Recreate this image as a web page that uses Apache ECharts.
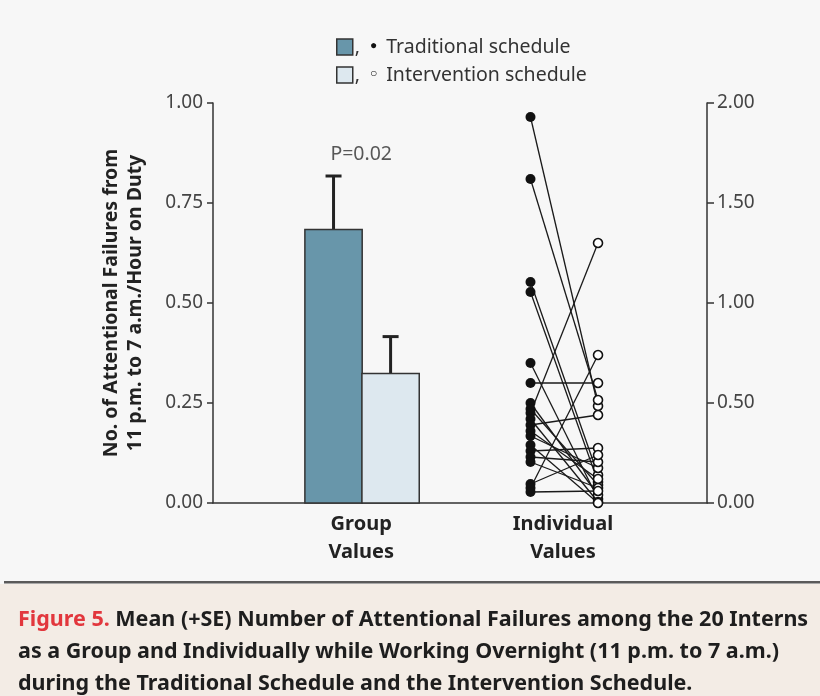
<!DOCTYPE html>
<html>
<head>
<meta charset="utf-8">
<script src="https://cdn.jsdelivr.net/npm/echarts@6/dist/echarts.min.js"></script>
<style>
  html, body { margin: 0; padding: 0; background: #f7f7f7; }
  #chart { width: 820px; height: 696px; }
</style>
</head>
<body>
<div id="chart"></div>
<script>
// ---- data ----
const schedules = ['Traditional schedule', 'Intervention schedule'];
const groupMeans = [0.684, 0.324];
const groupSE = [0.1335, 0.092];
const pValueText = 'P=0.02';
const xCategoryLabels = ['Group\nValues', 'Individual\nValues'];
const leftTickValues = [0, 0.25, 0.5, 0.75, 1.0];
const rightTickValues = [0, 0.5, 1.0, 1.5, 2.0];
// per-intern failures/hour, paired by index
const traditionalIndividual = [1.93, 1.62, 1.105, 1.055, 0.70, 0.60, 0.50, 0.47, 0.45, 0.42,
                               0.39, 0.36, 0.335, 0.29, 0.26, 0.23, 0.205, 0.095, 0.075, 0.055];
const interventionIndividual = [0.485, 0.515, 0.14, 0.105, 0.02, 0.60, 0.04, 0.09, 1.30, 0.005,
                                0.44, 0.12, 0.175, 0.0, 0.275, 0.205, 0.075, 0.24, 0.74, 0.06];
const captionLines = [
  ['Figure 5.', ' Mean (+SE) Number of Attentional Failures among the 20 Interns'],
  ['', 'as a Group and Individually while Working Overnight (11 p.m. to 7 a.m.)'],
  ['', 'during the Traditional Schedule and the Intervention Schedule.']
];

// ---- layout (x positions on a 0..10 horizontal scale) ----
const X_GROUP = 3.0;
const X_INDIV = 7.085;
const X_BARS = [2.44, 3.595];
const BAR_W = 1.16;
const X_TRAD_PTS = 6.427;
const X_INT_PTS = 7.794;
const P_LABEL_Y = 0.872;

const FONT = '"Noto Sans", "Open Sans", sans-serif';
const barColors = ['#6896aa', '#dde8ef'];

const chart = echarts.init(document.getElementById('chart'), null, { renderer: 'canvas' });

function barRenderer(params, api) {
  const x = api.value(0), m = api.value(1), se = api.value(2);
  const tl = api.coord([x - BAR_W / 2, m]);
  const br = api.coord([x + BAR_W / 2, 0]);
  const mid = api.coord([x, m]);
  const top = api.coord([x, m + se]);
  return {
    type: 'group',
    children: [
      { type: 'line', shape: { x1: mid[0], y1: mid[1], x2: top[0], y2: top[1] },
        style: { stroke: '#222', lineWidth: 3 } },
      { type: 'line', shape: { x1: top[0] - 8, y1: top[1], x2: top[0] + 8, y2: top[1] },
        style: { stroke: '#222', lineWidth: 3 } },
      { type: 'rect', shape: { x: tl[0], y: tl[1], width: br[0] - tl[0], height: br[1] - tl[1] },
        style: { fill: api.visual('color'), stroke: '#333', lineWidth: 1.5 } }
    ]
  };
}

function pairRenderer(params, api) {
  const a = api.coord([api.value(0), api.value(1)]);
  const b = api.coord([api.value(2), api.value(3)]);
  return { type: 'line', shape: { x1: a[0], y1: a[1], x2: b[0], y2: b[1] },
           style: { stroke: '#1a1a1a', lineWidth: 1.3 } };
}

const axisLine = { show: true, lineStyle: { color: '#333', width: 1.5 } };

const option = {
  backgroundColor: '#f7f7f7',
  animation: false,
  textStyle: { fontFamily: FONT },
  grid: { left: 213, right: 113, top: 103, bottom: 193, containLabel: false },
  legend: {
    orient: 'vertical', left: 336, top: 37, padding: 0,
    itemWidth: 16, itemHeight: 16, itemGap: 8, selectedMode: false,
    data: schedules.map((s, i) => ({
      name: s, icon: 'rect',
      itemStyle: { color: barColors[i], borderColor: '#333', borderWidth: 1.5 }
    })),
    formatter: name => (name === schedules[0] ? '{m|,}{d|\u25CF}' : '{m|,}{o|\u25CB}') + name,
    textStyle: {
      fontFamily: FONT, fontSize: 19.5, color: '#333', lineHeight: 18,
      rich: {
        m: { fontSize: 19.5, color: '#333', fontFamily: FONT, lineHeight: 18, padding: [0, 10, 0, -3] },
        d: { fontSize: 12, color: '#111', fontFamily: FONT, lineHeight: 18, padding: [0, 9, 2, 0] },
        o: { fontSize: 12, color: '#111', fontFamily: FONT, lineHeight: 18, padding: [0, 9, 2, 0] }
      }
    }
  },
  xAxis: {
    type: 'value', min: 0, max: 10,
    axisLine: axisLine, axisTick: { show: false }, splitLine: { show: false },
    axisLabel: {
      customValues: [X_GROUP, X_INDIV],
      formatter: v => (Math.abs(v - X_GROUP) < 0.01 ? xCategoryLabels[0] : xCategoryLabels[1]),
      fontFamily: FONT, fontSize: 20, fontWeight: 'bold', lineHeight: 28, color: '#222', margin: 7
    }
  },
  yAxis: [
    {
      type: 'value', min: 0, max: 1, interval: 0.25, position: 'left',
      axisLine: axisLine,
      axisTick: { show: true, length: 6, lineStyle: { color: '#333', width: 1.5 } },
      splitLine: { show: false },
      axisLabel: { formatter: v => v.toFixed(2), fontFamily: FONT, fontSize: 19, color: '#444', margin: 10,
                   customValues: leftTickValues },
      name: 'No. of Attentional Failures from\n11 p.m. to 7 a.m./Hour on Duty',
      nameLocation: 'middle', nameRotate: 90, nameGap: 66,
      nameTextStyle: { fontFamily: FONT, fontSize: 19.5, fontWeight: 'bold', color: '#222', lineHeight: 24 }
    },
    {
      type: 'value', min: 0, max: 2, interval: 0.5, position: 'right',
      axisLine: axisLine,
      axisTick: { show: true, length: 7, lineStyle: { color: '#333', width: 1.5 } },
      splitLine: { show: false },
      axisLabel: { formatter: v => v.toFixed(2), fontFamily: FONT, fontSize: 19, color: '#444', margin: 10,
                   customValues: rightTickValues }
    }
  ],
  series: [
    {
      name: schedules[0], type: 'custom', renderItem: barRenderer,
      itemStyle: { color: barColors[0] },
      data: [[X_BARS[0], groupMeans[0], groupSE[0]]], z: 3
    },
    {
      name: schedules[1], type: 'custom', renderItem: barRenderer,
      itemStyle: { color: barColors[1] },
      data: [[X_BARS[1], groupMeans[1], groupSE[1]]], z: 3
    },
    {
      type: 'scatter', symbolSize: 0, silent: true,
      data: [[X_GROUP, P_LABEL_Y]],
      label: { show: true, position: 'inside', formatter: pValueText,
               fontFamily: FONT, fontSize: 19.5, color: '#2e2e2e' }
    },
    {
      type: 'custom', yAxisIndex: 1, renderItem: pairRenderer, silent: true,
      encode: { x: [0, 2], y: [1, 3] },
      data: traditionalIndividual.map((t, i) => [X_TRAD_PTS, t, X_INT_PTS, interventionIndividual[i]]),
      z: 4
    },
    {
      type: 'scatter', yAxisIndex: 1, symbol: 'circle', symbolSize: 10, silent: true,
      itemStyle: { color: '#111', opacity: 1 },
      data: traditionalIndividual.map(v => [X_TRAD_PTS, v]), z: 5
    },
    {
      type: 'scatter', yAxisIndex: 1, symbol: 'circle', symbolSize: 9, silent: true,
      itemStyle: { color: '#fff', borderColor: '#111', borderWidth: 1.6, opacity: 1 },
      data: interventionIndividual.map(v => [X_INT_PTS, v]), z: 6
    }
  ],
  graphic: [
    { type: 'rect', left: 0, top: 584, shape: { width: 820, height: 112 },
      style: { fill: '#f3ece5' }, silent: true },
    { type: 'rect', left: 4, top: 581, shape: { width: 816, height: 2.5 },
      style: { fill: '#5a5a5a' }, silent: true },
    {
      type: 'text', left: 18, top: 609, silent: true,
      style: {
        text: captionLines.map(l => (l[0] ? '{r|' + l[0] + '}' : '') + '{b|' + l[1] + '}').join('\n'),
        rich: {
          r: { fill: '#e2373d', fontFamily: FONT, fontSize: 21.5, fontWeight: 'bold', lineHeight: 32 },
          b: { fill: '#1e1e1e', fontFamily: FONT, fontSize: 21.5, fontWeight: 'bold', lineHeight: 32 }
        }
      }
    }
  ]
};

chart.setOption(option);
</script>
</body>
</html>
